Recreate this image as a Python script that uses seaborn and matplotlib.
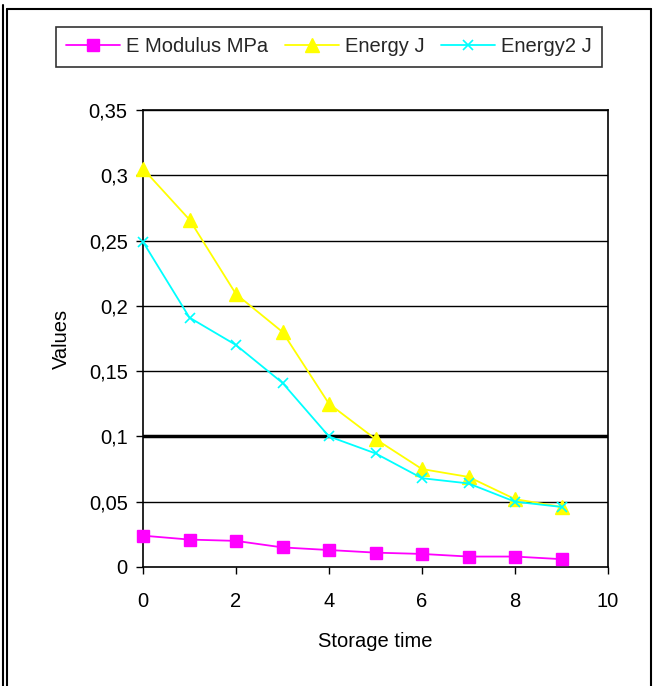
import matplotlib
matplotlib.use("Agg")
import matplotlib.pyplot as plt
import seaborn as sns
import pandas as pd
from matplotlib.lines import Line2D

storage_time = [0, 1, 2, 3, 4, 5, 6, 7, 8, 9]
e_modulus = [0.024, 0.021, 0.020, 0.015, 0.013, 0.011, 0.010, 0.008, 0.008, 0.006]
energy = [0.305, 0.266, 0.209, 0.180, 0.125, 0.098, 0.075, 0.069, 0.052, 0.046]
energy2 = [0.249, 0.191, 0.170, 0.141, 0.100, 0.087, 0.068, 0.064, 0.050, 0.046]
series_names = ["E Modulus MPa", "Energy J", "Energy2 J"]
y_ticks = [0, 0.05, 0.1, 0.15, 0.2, 0.25, 0.3, 0.35]
y_tick_labels = ["0", "0,05", "0,1", "0,15", "0,2", "0,25", "0,3", "0,35"]
x_ticks = [0, 2, 4, 6, 8, 10]
x_tick_labels = ["0", "2", "4", "6", "8", "10"]

sns.set_theme(style="white")
plt.rcParams["font.family"] = ["Liberation Sans", "DejaVu Sans"]
FS = 14.5

fig = plt.figure(figsize=(6.53, 6.86), dpi=100)
ax = fig.add_axes([143 / 653, 1 - 567 / 686, (608 - 143) / 653, (567 - 110) / 686])

df = pd.DataFrame({"t": storage_time, series_names[0]: e_modulus,
                   series_names[1]: energy, series_names[2]: energy2})

styles = [("#FF00FF", "s", 8, 1.0), ("#FFFF00", "^", 10, 1.0), ("#00FFFF", "x", 7, 1.2)]
for name, (c, m, ms, mew) in zip(series_names, styles):
    sns.lineplot(data=df, x="t", y=name, ax=ax, color=c, marker=m, markersize=ms,
                 markeredgecolor=c, markerfacecolor=c, markeredgewidth=mew,
                 linewidth=1.3, label=name, zorder=3, clip_on=False)

# grid lines
for yv in y_ticks[1:]:
    ax.axhline(yv, color="black", linewidth=2.5 if abs(yv - 0.1) < 1e-9 else 1.0, zorder=1)

ax.set_xlim(0, 10)
ax.set_ylim(0, 0.35)
ax.set_xticks(x_ticks)
ax.set_xticklabels(x_tick_labels)
ax.set_yticks(y_ticks)
ax.set_yticklabels(y_tick_labels)
for s in ax.spines.values():
    s.set_color("black")
    s.set_linewidth(1.2)
ax.tick_params(axis="both", direction="out", length=5, width=1, color="black",
               labelsize=FS, labelcolor="black", pad=6)
ax.tick_params(axis="x", bottom=True, pad=13)
ax.tick_params(axis="y", left=True)
ax.set_xlabel("Storage time", fontsize=FS, labelpad=15, color="black")
ax.set_ylabel("Values", fontsize=FS, labelpad=13, color="black")

h, l = ax.get_legend_handles_labels()
ax.get_legend().remove()
leg = fig.legend(h, l, ncol=3, loc="center", bbox_to_anchor=(329 / 653, 1 - 47 / 686),
                 frameon=True, fancybox=False, edgecolor="black", fontsize=FS,
                 handlelength=2.7, handletextpad=0.3, columnspacing=0.8,
                 borderpad=0.5)
leg.get_frame().set_linewidth(1.2)

# outer frame
W, H = 653, 686
fig.add_artist(Line2D([3 / W, 3 / W], [0, 1 - 5 / H], color="black", lw=1.5, transform=fig.transFigure))
fig.add_artist(Line2D([7 / W, 7 / W], [0, 1 - 9 / H], color="black", lw=1.5, transform=fig.transFigure))
fig.add_artist(Line2D([7 / W, 651 / W], [1 - 9 / H, 1 - 9 / H], color="black", lw=1.5, transform=fig.transFigure))
fig.add_artist(Line2D([651 / W, 651 / W], [0, 1 - 9 / H], color="black", lw=1.5, transform=fig.transFigure))

fig.savefig("out.png", dpi=100)
